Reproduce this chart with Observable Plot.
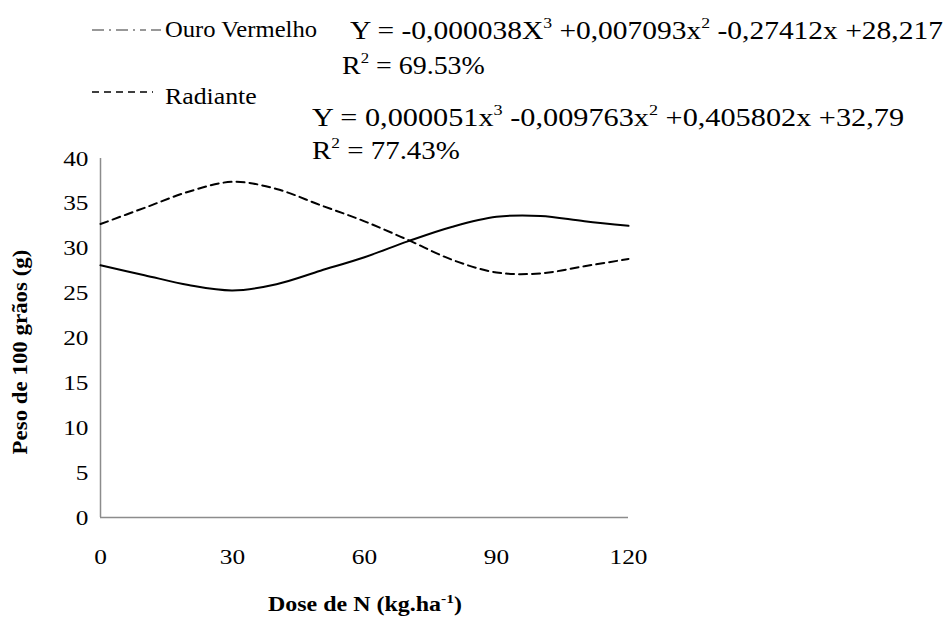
<!DOCTYPE html>
<html>
<head>
<meta charset="utf-8">
<script src="https://cdn.jsdelivr.net/npm/d3@7"></script>
<script src="https://cdn.jsdelivr.net/npm/@observablehq/plot@0.6"></script>
<style>
  html, body { margin:0; padding:0; background:#fff; }
  #wrap { position:relative; width:951px; height:617px; font-family:'Liberation Serif',serif; color:#000; overflow:hidden; }
  #wrap svg.plot { position:absolute; left:0; top:0; }
  #wrap svg.plot text { font-family:'Liberation Serif',serif; }
  .abs { position:absolute; white-space:nowrap; line-height:1; font-family:'Liberation Serif',serif; }
  .fitL { transform-origin: 0 50%; }
  .leg { font-size:23px; }
  .eq { font-size:25px; }
  .eq sup { font-size:15px; vertical-align:11px; line-height:0; }
  .ttl { font-size:20px; font-weight:bold; }
  .ttl sup { font-size:13px; vertical-align:8px; line-height:0; }
</style>
</head>
<body>
<div id="wrap"></div>
<script>
const doses = [0, 10, 20, 30, 40, 50, 60, 70, 80, 90, 100, 110, 120];
const ouroVermelho = [28.1, 27.0, 25.9, 25.3, 26.0, 27.5, 29.0, 30.8, 32.4, 33.5, 33.6, 33.0, 32.5];
const radiante = [32.7, 34.5, 36.3, 37.4, 36.6, 34.8, 33.0, 30.9, 28.7, 27.3, 27.2, 28.0, 28.8];
const xTicks = [0, 30, 60, 90, 120];
const yTicks = [0, 5, 10, 15, 20, 25, 30, 35, 40];
const seriesNames = ["Ouro Vermelho", "Radiante"];

const rows = [];
doses.forEach((d, i) => {
  rows.push({dose: d, peso: ouroVermelho[i], s: seriesNames[0]});
  rows.push({dose: d, peso: radiante[i], s: seriesNames[1]});
});

const FONT = "'Liberation Serif', serif";
const chart = Plot.plot({
  width: 951,
  height: 617,
  marginTop: 158,
  marginBottom: 100,
  marginLeft: 100,
  marginRight: 323,
  style: {fontFamily: FONT, fontSize: "22px", color: "#000", background: "transparent"},
  x: {domain: [0, 120]},
  y: {domain: [0, 40]},
  marks: [
    Plot.axisX({ticks: xTicks, tickSize: 0, tickPadding: 31, label: null, fontSize: 22, fontFamily: FONT}),
    Plot.axisY({ticks: yTicks, tickSize: 0, tickPadding: 12, label: null, fontSize: 22, fontFamily: FONT}),
    Plot.ruleY([0], {stroke: "#8c8c8c", strokeWidth: 1.5}),
    Plot.ruleX([0], {stroke: "#8c8c8c", strokeWidth: 1.5}),
    Plot.line(rows.filter(r => r.s === seriesNames[0]), {x: "dose", y: "peso", stroke: "#000", strokeWidth: 2, curve: "catmull-rom"}),
    Plot.line(rows.filter(r => r.s === seriesNames[1]), {x: "dose", y: "peso", stroke: "#000", strokeWidth: 2, strokeDasharray: "8,5", curve: "catmull-rom"})
  ]
});
chart.classList.add("plot");
const wrap = document.getElementById("wrap");
wrap.appendChild(chart);

// widen tick labels slightly around their anchor, like the reference's stretched type
chart.querySelectorAll('[aria-label$="tick label"] text').forEach(t => {
  const x = +(t.getAttribute("x") || 0);
  const tr = t.getAttribute("transform") || "";
  t.setAttribute("transform", `${tr} translate(${x},0) scale(1.15,1) translate(${-x},0)`);
});

wrap.insertAdjacentHTML("beforeend", `
  <svg class="abs" style="left:91px;top:24px" width="72" height="12"><line x1="1" y1="6" x2="70" y2="6" stroke="#777" stroke-width="1.5" stroke-dasharray="12,5,2,5,12,5,2,5,6,5"/></svg>
  <div class="abs leg fitL" data-w="152" style="left:165px;top:18px">${seriesNames[0]}</div>
  <div class="abs eq fitL" data-w="593" style="left:350px;top:18px">Y = -0,000038X<sup>3</sup> +0,007093x<sup>2</sup> -0,27412x +28,217</div>
  <div class="abs eq fitL" data-w="143" style="left:342px;top:53px">R<sup>2</sup> = 69.53%</div>
  <svg class="abs" style="left:91px;top:86px" width="64" height="12"><line x1="1" y1="6" x2="62" y2="6" stroke="#000" stroke-width="1.5" stroke-dasharray="7,5"/></svg>
  <div class="abs leg fitL" data-w="92" style="left:165px;top:85px">${seriesNames[1]}</div>
  <div class="abs eq fitL" data-w="592" style="left:312px;top:105px">Y = 0,000051x<sup>3</sup> -0,009763x<sup>2</sup> +0,405802x +32,79</div>
  <div class="abs eq fitL" data-w="148" style="left:312px;top:138px">R<sup>2</sup> = 77.43%</div>
  <div class="abs ttl" id="xt" data-w="194" style="left:365px;top:604px">Dose de N (kg.ha<sup>-1</sup>)</div>
  <div class="abs ttl" id="yt" data-w="205" style="left:20px;top:352px">Peso de 100 grãos (g)</div>
`);

wrap.querySelectorAll(".fitL").forEach(el => {
  const s = (+el.dataset.w) / el.offsetWidth;
  el.style.transform = `scaleX(${s})`;
});
["xt", "yt"].forEach(id => {
  const el = document.getElementById(id);
  const s = (+el.dataset.w) / el.offsetWidth;
  el.style.transform = id === "xt"
    ? `translate(-50%,-50%) scaleX(${s})`
    : `translate(-50%,-50%) rotate(-90deg) scaleX(${s})`;
});
</script>
</body>
</html>
